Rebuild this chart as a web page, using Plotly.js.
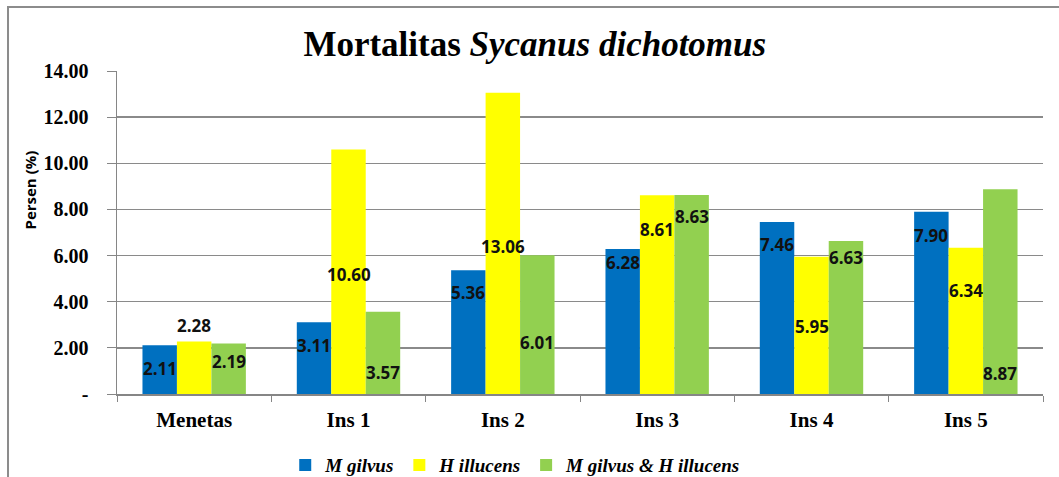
<!DOCTYPE html>
<html>
<head>
<meta charset="utf-8">
<script src="https://cdn.plot.ly/plotly-3.0.1.min.js"></script>
<style>html,body{margin:0;padding:0;background:#fff;}#chart{width:1059px;height:477px;}</style>
</head>
<body>
<div id="chart"></div>
<script>
// ---- data ----
const categories = ['Menetas', 'Ins 1', 'Ins 2', 'Ins 3', 'Ins 4', 'Ins 5'];
const seriesNames = ['M gilvus', 'H illucens', 'M gilvus & H illucens'];
const mGilvus = [2.11, 3.11, 5.36, 6.28, 7.46, 7.90];
const hIllucens = [2.28, 10.60, 13.06, 8.61, 5.95, 6.34];
const mGilvusHIllucens = [2.19, 3.57, 6.01, 8.63, 6.63, 8.87];
const yTickVals = [0, 2, 4, 6, 8, 10, 12, 14];
const yTickText = ['-', '2.00', '4.00', '6.00', '8.00', '10.00', '12.00', '14.00'];

// ---- style ----
const colors = ['#0070C0', '#FFFF00', '#92D050'];
// relative height (fraction of bar value) at which each data label sits, as in the original
const labelFrac = [
  [0.53, 0.68, 0.82, 0.91, 0.87, 0.87],
  [1.31, 0.49, 0.49, 0.83, 0.49, 0.71],
  [0.65, 0.26, 0.37, 0.89, 0.89, 0.10]
];
const series = [mGilvus, hIllucens, mGilvusHIllucens];
const barPx = 926 / 6 * (1 - 0.33) / 3;

const traces = series.map((vals, i) => ({
  type: 'bar', name: seriesNames[i], x: categories, y: vals,
  marker: {color: colors[i], line: {width: 0}},
  hoverinfo: 'x+y'
}));

const annotations = [];
series.forEach((vals, i) => {
  vals.forEach((v, j) => {
    annotations.push({
      x: categories[j], y: v * labelFrac[i][j], xref: 'x', yref: 'y',
      text: v.toFixed(2), showarrow: false, xshift: (i - 1) * barPx,
      font: {family: 'Open Sans, Liberation Sans, sans-serif', size: 17, color: '#111', weight: 'bold'}
    });
  });
});
annotations.push({
  xref: 'paper', yref: 'paper', x: -0.095, xanchor: 'center', y: 0.63, yanchor: 'middle', textangle: -90,
  text: '<b>Persen (%)</b>', showarrow: false,
  font: {family: 'Open Sans, Liberation Sans, sans-serif', size: 15, color: '#000'}
});

const layout = {
  width: 1059, height: 477,
  margin: {l: 117, r: 16, t: 71, b: 83},
  paper_bgcolor: '#fff', plot_bgcolor: '#fff',
  barmode: 'group', bargap: 0.33, bargroupgap: 0,
  title: {
    text: '<b>Mortalitas <i>Sycanus dichotomus</i></b>',
    x: 0.505, xref: 'container', y: 0.908, yref: 'container', yanchor: 'middle',
    font: {family: 'Liberation Serif, Times New Roman, serif', size: 35, color: '#000'}
  },
  xaxis: {
    type: 'category', tickson: 'boundaries', ticks: 'outside', ticklen: 6, tickcolor: '#868686',
    showline: true, linecolor: '#868686', linewidth: 1.5, showgrid: false,
    tickfont: {family: 'Liberation Serif, Times New Roman, serif', size: 21, color: '#000', weight: 'bold'},
    ticklabelstandoff: 6
  },
  yaxis: {
    range: [0, 14], tickvals: yTickVals, ticktext: yTickText,
    ticks: 'outside', ticklen: 9, tickcolor: '#868686',
    showline: true, linecolor: '#868686', linewidth: 1.5,
    showgrid: true, gridcolor: '#8a8a8a', gridwidth: 1.3, zeroline: false,
    tickfont: {family: 'Liberation Serif, Times New Roman, serif', size: 20, color: '#000', weight: 'bold'},
    ticklabelstandoff: 14
  },
  legend: {
    orientation: 'h', x: 0.487, xref: 'container', xanchor: 'center',
    y: 0.025, yref: 'container', yanchor: 'middle',
    font: {family: 'Liberation Serif, Times New Roman, serif', size: 19, color: '#000', weight: 'bold', style: 'italic'},
    itemwidth: 30, tracegroupgap: 0
  },
  annotations: annotations,
  shapes: [{
    type: 'rect', xref: 'paper', yref: 'paper',
    x0: -0.1177, x1: 1.2, y0: -0.6, y1: 1.198,
    line: {color: '#8c8c8c', width: 2}, layer: 'below'
  }]
};

Plotly.newPlot('chart', traces, layout, {displayModeBar: false, staticPlot: true});
</script>
</body>
</html>
